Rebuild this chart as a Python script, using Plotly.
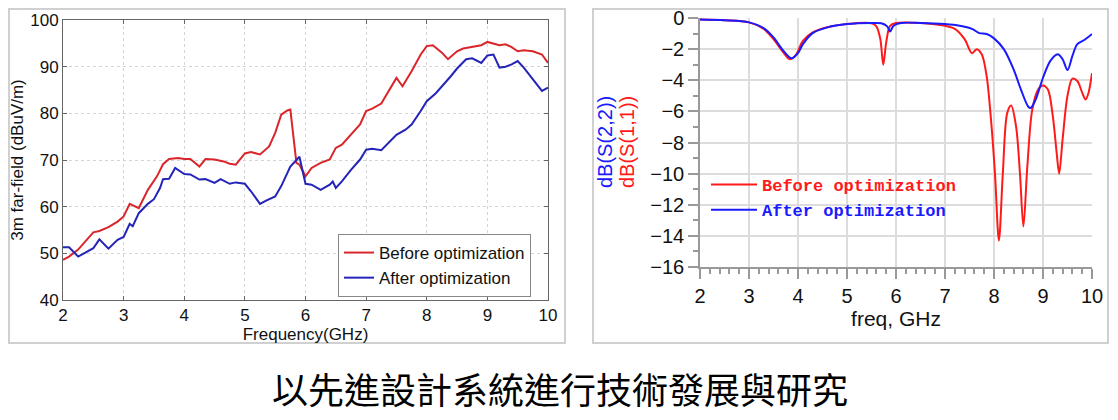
import plotly.graph_objects as go

# page body has an 8px margin; the figure is sized to fit inside the 1118x420 window
OFF = 8
W, H = 1118 - 2 * OFF, 420 - OFF

# ---------------- data: left chart (3m far-field) ----------------
freq_before = [2.0, 2.1, 2.25, 2.4, 2.5, 2.6, 2.75, 2.9, 3.0, 3.1, 3.25, 3.4, 3.55, 3.65, 3.75, 3.9, 4.0, 4.1,
               4.25, 4.35, 4.5, 4.65, 4.75, 4.85, 5.0, 5.1, 5.25, 5.4, 5.5, 5.6, 5.7, 5.75, 5.8, 5.85, 5.9,
               6.0, 6.1, 6.25, 6.4, 6.5, 6.6, 6.75, 6.9, 7.0, 7.1, 7.25, 7.4, 7.5, 7.6, 7.75, 7.9, 8.0, 8.1,
               8.25, 8.35, 8.5, 8.6, 8.75, 8.9, 9.0, 9.1, 9.2, 9.3, 9.4, 9.5, 9.6, 9.75, 9.9, 10.0]
before = [48.6, 49.3, 50.8, 52.9, 54.5, 54.8, 55.6, 56.8, 57.9, 60.6, 59.7, 63.6, 66.5, 69.1, 70.2, 70.4, 70.2,
          70.2, 68.6, 70.2, 70.1, 69.7, 69.2, 69.0, 71.4, 71.7, 71.2, 72.9, 75.8, 79.7, 80.6, 80.8, 74.4, 69.4,
          69.0, 66.5, 68.3, 69.4, 70.1, 72.6, 73.3, 75.4, 77.6, 80.5, 81.0, 82.1, 85.3, 87.6, 85.8, 89.0, 92.6,
          94.4, 94.6, 93.0, 91.6, 93.3, 93.9, 94.2, 94.6, 95.3, 95.0, 94.6, 94.8, 94.2, 93.3, 93.5, 93.3, 92.6,
          90.8]

freq_after = [2.0, 2.1, 2.25, 2.4, 2.5, 2.6, 2.75, 2.9, 3.0, 3.1, 3.15, 3.25, 3.4, 3.5, 3.6, 3.65, 3.75, 3.85,
              4.0, 4.1, 4.25, 4.35, 4.5, 4.6, 4.75, 4.85, 5.0, 5.1, 5.25, 5.35, 5.5, 5.6, 5.75, 5.9, 6.0, 6.1,
              6.25, 6.4, 6.45, 6.5, 6.6, 6.75, 6.9, 7.0, 7.1, 7.25, 7.4, 7.5, 7.65, 7.75, 7.9, 8.0, 8.15, 8.25,
              8.4, 8.5, 8.65, 8.75, 8.9, 9.0, 9.1, 9.2, 9.3, 9.4, 9.5, 9.6, 9.75, 9.9, 10.0]
after = [51.3, 51.3, 49.3, 50.3, 51.1, 53.0, 51.0, 52.9, 53.5, 56.3, 55.8, 58.6, 60.6, 61.6, 64.0, 65.9, 66.0,
         68.3, 67.0, 66.9, 65.8, 65.9, 65.1, 65.9, 64.9, 65.2, 64.9, 63.3, 60.6, 61.3, 62.2, 64.4, 68.6, 70.7,
         64.9, 64.7, 63.6, 64.7, 65.4, 64.0, 65.4, 67.9, 70.1, 72.2, 72.4, 72.1, 74.0, 75.4, 76.5, 77.6, 80.5,
         82.6, 84.3, 85.7, 88.0, 89.6, 91.6, 91.8, 90.8, 92.4, 92.6, 89.8, 90.0, 90.5, 91.2, 89.8, 87.3, 84.8,
         85.5]

# ---------------- data: right chart (S-parameters) ----------------
freq_s11 = [2.0, 2.5, 3.0, 3.3, 3.5, 3.7, 3.83, 3.95, 4.1, 4.3, 4.6, 5.0, 5.5, 5.6, 5.68, 5.74, 5.8, 5.88, 6.0,
            6.5, 7.0, 7.2, 7.4, 7.55, 7.65, 7.75, 7.85, 7.95, 8.02, 8.1, 8.18, 8.27, 8.35, 8.45, 8.53, 8.6,
            8.68, 8.78, 8.9, 9.0, 9.1, 9.2, 9.28, 9.33, 9.4, 9.5, 9.6, 9.7, 9.8, 9.87, 9.93, 10.0]
s11 = [-0.1, -0.15, -0.28, -0.7, -1.36, -2.2, -2.65, -2.4, -1.47, -0.93, -0.6, -0.39, -0.34, -0.54, -1.36, -3.0,
       -1.57, -0.5, -0.32, -0.32, -0.5, -0.7, -1.36, -2.26, -2.0, -2.33, -3.73, -6.96, -10.0, -14.3, -10.0, -6.1,
       -5.62, -6.96, -10.0, -13.4, -9.55, -5.9, -4.6, -4.33, -4.6, -6.3, -8.7, -10.0, -7.8, -5.0, -3.9, -4.05,
       -4.8, -5.24, -4.8, -3.55]

freq_s22 = [2.0, 2.5, 3.0, 3.3, 3.5, 3.7, 3.87, 4.0, 4.1, 4.3, 4.6, 5.0, 5.5, 5.7, 5.82, 5.88, 5.95, 6.1, 6.5,
            7.0, 7.3, 7.55, 7.7, 7.85, 8.0, 8.2, 8.4, 8.55, 8.7, 8.75, 8.85, 9.0, 9.15, 9.3, 9.4, 9.5, 9.6,
            9.7, 9.85, 10.0]
s22 = [-0.1, -0.15, -0.28, -0.65, -1.25, -2.1, -2.59, -2.26, -1.68, -0.97, -0.6, -0.39, -0.32, -0.34, -0.54,
       -0.86, -0.5, -0.32, -0.32, -0.39, -0.5, -0.7, -0.97, -1.03, -1.31, -2.0, -3.3, -4.6, -5.7, -5.78, -5.24,
       -3.84, -2.76, -2.33, -2.65, -3.34, -2.44, -1.68, -1.4, -1.03]

left_names = ["Before optimization", "After optimization"]
right_names = ["Before optimization", "After optimization"]
caption = "以先進設計系統進行技術發展與研究"


def px(x):
    # window pixel -> paper fraction
    return (x - OFF) / W


def py(y):
    return 1 - (y - OFF) / H


fig = go.Figure()

# left chart traces
fig.add_trace(go.Scatter(x=freq_before, y=before, mode="lines", name=left_names[0],
                         line=dict(color="#d9262b", width=2), xaxis="x", yaxis="y", legend="legend"))
fig.add_trace(go.Scatter(x=freq_after, y=after, mode="lines", name=left_names[1],
                         line=dict(color="#2424b8", width=2), xaxis="x", yaxis="y", legend="legend"))

# right chart traces
fig.add_trace(go.Scatter(x=freq_s11, y=s11, mode="lines",
                         name='<b><span style="color:#ff1a1a">' + right_names[0] + '</span></b>',
                         line=dict(color="#ff1a1a", width=2, shape="spline", smoothing=0.9),
                         xaxis="x2", yaxis="y2", legend="legend2"))
fig.add_trace(go.Scatter(x=freq_s22, y=s22, mode="lines",
                         name='<b><span style="color:#1a1aff">' + right_names[1] + '</span></b>',
                         line=dict(color="#1a1aff", width=2, shape="spline", smoothing=0.9),
                         xaxis="x2", yaxis="y2", legend="legend2"))

tick_font_l = dict(family="Arial, Liberation Sans", size=17, color="#111")
tick_font_r = dict(family="Arial, Liberation Sans", size=20, color="#111")

fig.update_layout(
    width=W, height=H,
    margin=dict(l=0, r=0, t=0, b=0, autoexpand=False),
    paper_bgcolor="white", plot_bgcolor="white",
    showlegend=True,
    xaxis=dict(domain=[px(63), px(548)], range=[2, 10], dtick=1, anchor="y", automargin=False,
               showgrid=True, gridcolor="#d4d4d4", griddash="dot", gridwidth=1,
               showline=True, linecolor="#666", linewidth=1, mirror="ticks",
               ticks="inside", ticklen=4, tickcolor="#666", tickfont=tick_font_l,
               ticklabeloverflow="allow", zeroline=False,
               title=dict(text="Frequency(GHz)", font=dict(family="Arial, Liberation Sans", size=17, color="#111"),
                          standoff=2)),
    yaxis=dict(domain=[py(300), py(20)], range=[40, 100], dtick=10, anchor="x", automargin=False,
               showgrid=True, gridcolor="#d4d4d4", griddash="dot", gridwidth=1,
               showline=True, linecolor="#666", linewidth=1, mirror="ticks",
               ticks="inside", ticklen=4, tickcolor="#666", tickfont=tick_font_l,
               ticklabeloverflow="allow", zeroline=False,
               title=dict(text="3m far-field (dBuV/m)", font=dict(family="Arial, Liberation Sans", size=17, color="#111"),
                          standoff=4)),
    xaxis2=dict(domain=[px(700), px(1092)], range=[2, 10], dtick=1, anchor="y2", automargin=False,
                showgrid=True, gridcolor="#dcdcdc", gridwidth=1.5,
                showline=True, linecolor="#999", linewidth=1.5, mirror=False,
                ticks="outside", ticklen=10, tickcolor="#999", tickwidth=1.5, tickfont=tick_font_r,
                minor=dict(dtick=0.2, ticks="outside", ticklen=5, tickcolor="#999", showgrid=False),
                ticklabeloverflow="allow", zeroline=False,
                title=dict(text="freq, GHz", font=dict(family="Arial, Liberation Sans", size=21, color="#111"),
                           standoff=6)),
    yaxis2=dict(domain=[py(267), py(18)], range=[-16, 0], dtick=2, anchor="x2", automargin=False,
                showgrid=True, gridcolor="#dcdcdc", gridwidth=1.5,
                showline=True, linecolor="#999", linewidth=1.5, mirror=False,
                ticks="outside", ticklen=10, tickcolor="#999", tickwidth=1.5, tickfont=tick_font_r,
                minor=dict(dtick=1, ticks="outside", ticklen=5, tickcolor="#999", showgrid=False),
                ticklabeloverflow="allow", zeroline=False),
    legend=dict(x=px(338), y=py(234), xanchor="left", yanchor="top",
                bgcolor="white", bordercolor="#888", borderwidth=1,
                font=dict(family="Arial, Liberation Sans", size=17, color="#111"),
                tracegroupgap=0, itemwidth=30),
    legend2=dict(x=px(706), y=py(167), xanchor="left", yanchor="top",
                 bgcolor="rgba(255,255,255,0)", borderwidth=0,
                 font=dict(family="Liberation Mono, Courier New", size=17, color="#ff1a1a"),
                 tracegroupgap=0, itemwidth=46),
)

# panel frames (clamped to the visible figure area)
fig.add_shape(type="rect", xref="paper", yref="paper", x0=px(9), x1=px(565), y0=py(343), y1=py(9),
              line=dict(color="#d0d0d0", width=2), layer="below")
fig.add_shape(type="rect", xref="paper", yref="paper", x0=px(593), x1=px(1108), y0=py(343), y1=py(9),
              line=dict(color="#d0d0d0", width=2), layer="below")

# right chart two-coloured y titles
fig.add_annotation(text="dB(S(2,2))", xref="paper", yref="paper", x=px(605), y=py(142), showarrow=False,
                   xanchor="center", yanchor="middle",
                   textangle=-90, font=dict(family="Arial, Liberation Sans", size=20, color="#1a1aff"))
fig.add_annotation(text="dB(S(1,1))", xref="paper", yref="paper", x=px(627), y=py(142), showarrow=False,
                   xanchor="center", yanchor="middle",
                   textangle=-90, font=dict(family="Arial, Liberation Sans", size=20, color="#ff1a1a"))

# caption
fig.add_annotation(text=caption, xref="paper", yref="paper", x=px(560), y=py(388), showarrow=False,
                   xanchor="center", yanchor="middle",
                   font=dict(family="Noto Sans CJK TC", size=36, color="#000"))

fig.write_html("out.html")
